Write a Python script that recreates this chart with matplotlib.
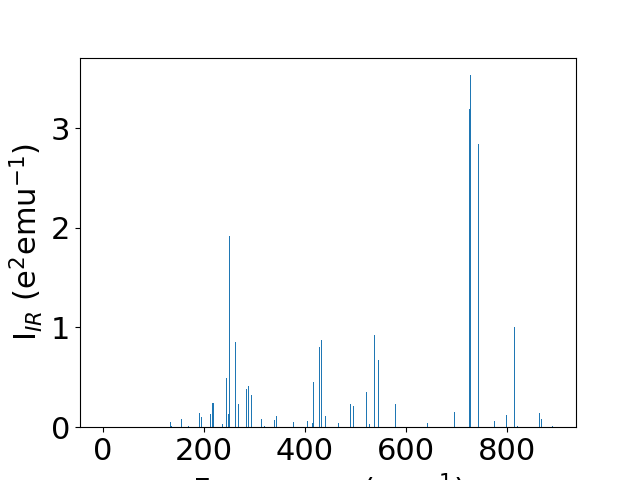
import matplotlib
matplotlib.use("Agg")
import matplotlib.pyplot as plt

# IR-active modes: frequency (cm^-1) and intensity (e^2 emu^-1)
freq = [0, 0, 0, 134, 136, 156, 170, 192, 196, 214, 218, 237, 245, 249, 251,
        263, 269, 285, 289, 295, 315, 321, 339, 343, 377, 405, 415, 417,
        430, 434, 442, 466, 490, 496, 522, 528, 538, 546, 580, 643, 697,
        727, 729, 745, 777, 799, 815, 821, 866, 870, 892]
intensity = [0.0, 0.0, 0.0, 0.053, 0.01, 0.083, 0.01, 0.144, 0.104, 0.134,
             0.244, 0.033, 0.495, 0.134, 1.915, 0.856, 0.234, 0.385, 0.415,
             0.324, 0.083, 0.01, 0.073, 0.114, 0.053, 0.064, 0.043, 0.455,
             0.806, 0.876, 0.114, 0.043, 0.234, 0.214, 0.354, 0.033, 0.926,
             0.675, 0.234, 0.043, 0.154, 3.19, 3.53, 2.84, 0.064, 0.124,
             1.006, 0.013, 0.144, 0.083, 0.013]

fig, ax = plt.subplots(figsize=(6.4, 4.8), dpi=100)
ax.bar(freq, intensity, width=2, color="C0")
ax.set_xlabel(r"Frequency (cm$^{-1}$)", fontsize=22)
ax.set_ylabel(r"I$_{IR}$ (e$^{2}$emu$^{-1}$)", fontsize=22)
ax.tick_params(labelsize=22)
ax.set_xticks([0, 200, 400, 600, 800])
ax.set_yticks([0, 1, 2, 3])

fig.savefig("out.png", dpi=100)
